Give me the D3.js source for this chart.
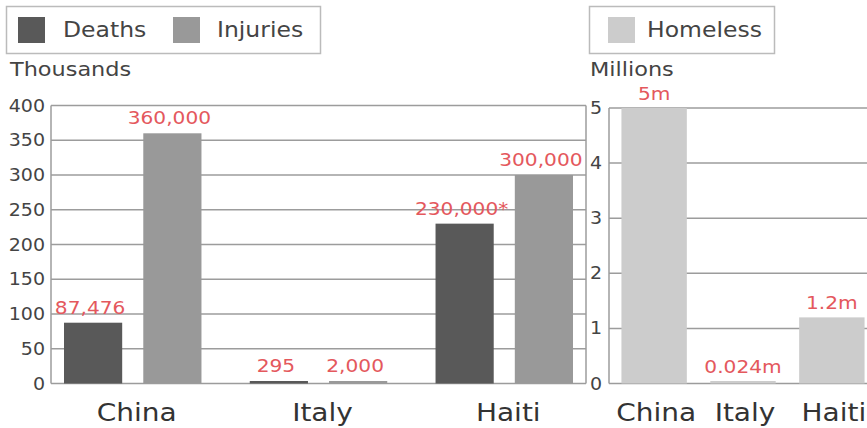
<!DOCTYPE html>
<html>
<head>
<meta charset="utf-8">
<script src="https://cdn.jsdelivr.net/npm/d3@7/dist/d3.min.js"></script>
<style>
  html, body { margin: 0; padding: 0; background: #fff; }
  svg { display: block; }
  text { font-family: "DejaVu Sans", Verdana, sans-serif; }
</style>
</head>
<body>
<script>
// ---- data ----
const countries = ["China", "Italy", "Haiti"];
const deaths = [87476, 295, 230000];          // people
const injuries = [360000, 2000, 300000];      // people
const deathNotes = ["", "", "*"];
const homeless = [5, 0.024, 1.2];             // millions
const leftTicks = [0, 50, 100, 150, 200, 250, 300, 350, 400];   // thousands
const rightTicks = [0, 1, 2, 3, 4, 5];                          // millions
const seriesNames = ["Deaths", "Injuries"];
const homelessName = "Homeless";

// ---- style ----
const W = 867, H = 428;
const SX = 1.12;               // horizontal text stretch
const MINH = 2.5;              // minimum visible bar height
const cDeaths = "#595959", cInj = "#999999", cHome = "#cccccc";
const cLabel = "#e4585d", cText = "#444", cGrid = "#9c9c9c";

const svg = d3.select("body").append("svg").attr("width", W).attr("height", H);

function txt(g, x, y, s, size, anchor, color) {
  return g.append("text")
    .attr("transform", `translate(${x},${y}) scale(${SX},1)`)
    .attr("text-anchor", anchor)
    .attr("font-size", size)
    .attr("fill", color)
    .text(s);
}

// ---- left chart ----
const L = { x0: 51, x1: 586, y0: 383.5, y1: 105.5 };
const yL = d3.scaleLinear().domain([0, 400]).range([L.y0, L.y1]);
const xL = d3.scaleBand().domain(countries).range([L.x0, L.x1]).paddingInner(0.26).paddingOuter(0.07);
const xLi = d3.scaleBand().domain(seriesNames).range([0, xL.bandwidth()]).paddingInner(0.266).paddingOuter(0);

const gl = svg.append("g");
gl.selectAll("line.grid").data(leftTicks).join("line")
  .attr("x1", L.x0).attr("x2", L.x1)
  .attr("y1", d => yL(d)).attr("y2", d => yL(d))
  .attr("stroke", cGrid).attr("stroke-width", 1.5);
gl.append("line").attr("x1", L.x0).attr("x2", L.x0).attr("y1", L.y1).attr("y2", L.y0).attr("stroke", cGrid).attr("stroke-width", 1.5);
gl.append("line").attr("x1", L.x1).attr("x2", L.x1).attr("y1", L.y1).attr("y2", L.y0).attr("stroke", cGrid).attr("stroke-width", 1.5);
leftTicks.forEach(t => txt(gl, L.x0 - 6, yL(t) + 6, t, 17, "end", cText));

const fmt = d3.format(",");
const leftData = [];
countries.forEach((c, i) => {
  leftData.push({ c, s: "Deaths", v: deaths[i], label: fmt(deaths[i]) + deathNotes[i], col: cDeaths });
  leftData.push({ c, s: "Injuries", v: injuries[i], label: fmt(injuries[i]), col: cInj });
});
leftData.forEach(d => {
  const x = xL(d.c) + xLi(d.s), w = xLi.bandwidth();
  const y = Math.min(yL(d.v / 1000), L.y0 - MINH);
  gl.append("rect").attr("x", x).attr("y", y).attr("width", w).attr("height", L.y0 - y).attr("fill", d.col);
  txt(gl, x + w / 2 - 3, y - 9, d.label, 18, "middle", cLabel);
});
countries.forEach(c => txt(gl, xL(c) + xL.bandwidth() / 2 + 4, 421, c, 25, "middle", "#333"));
txt(gl, 10, 76, "Thousands", 20, "start", cText);

// left legend
gl.append("rect").attr("x", 6.5).attr("y", 6.5).attr("width", 314).attr("height", 47)
  .attr("fill", "none").attr("stroke", "#bbb").attr("stroke-width", 1.5);
gl.append("rect").attr("x", 18).attr("y", 17).attr("width", 27).attr("height", 26).attr("fill", cDeaths);
txt(gl, 63, 37, seriesNames[0], 21, "start", cText);
gl.append("rect").attr("x", 173).attr("y", 17).attr("width", 27).attr("height", 26).attr("fill", cInj);
txt(gl, 217, 37, seriesNames[1], 21, "start", cText);

// ---- right chart ----
const R = { x0: 609, x1: 877, y0: 383.5, y1: 108 };
const yR = d3.scaleLinear().domain([0, 5]).range([R.y0, R.y1]);
const xR = d3.scaleBand().domain(countries).range([R.x0, R.x1]).paddingInner(0.264).paddingOuter(0.14);
const gr = svg.append("g");
gr.selectAll("line.grid").data(rightTicks).join("line")
  .attr("x1", R.x0).attr("x2", R.x1)
  .attr("y1", d => yR(d)).attr("y2", d => yR(d))
  .attr("stroke", cGrid).attr("stroke-width", 1.5);
gr.append("line").attr("x1", R.x0).attr("x2", R.x0).attr("y1", R.y1).attr("y2", R.y0).attr("stroke", cGrid).attr("stroke-width", 1.5);
rightTicks.forEach(t => txt(gr, R.x0 - 7, yR(t) + 6, t, 17, "end", cText));
countries.forEach((c, i) => {
  const x = xR(c), w = xR.bandwidth(), y = Math.min(yR(homeless[i]), R.y0 - MINH);
  gr.append("rect").attr("x", x).attr("y", y).attr("width", w).attr("height", R.y0 - y).attr("fill", cHome);
  txt(gr, x + w / 2, y - 8, homeless[i] + "m", 18, "middle", cLabel);
  txt(gr, x + w / 2 + 2, 421, c, 25, "middle", "#333");
});
txt(gr, 590, 76, "Millions", 20, "start", cText);
gr.append("rect").attr("x", 589.5).attr("y", 6.5).attr("width", 185).attr("height", 47)
  .attr("fill", "none").attr("stroke", "#bbb").attr("stroke-width", 1.5);
gr.append("rect").attr("x", 608).attr("y", 17).attr("width", 27).attr("height", 26).attr("fill", cHome);
txt(gr, 647, 37, homelessName, 21, "start", cText);
</script>
</body>
</html>
